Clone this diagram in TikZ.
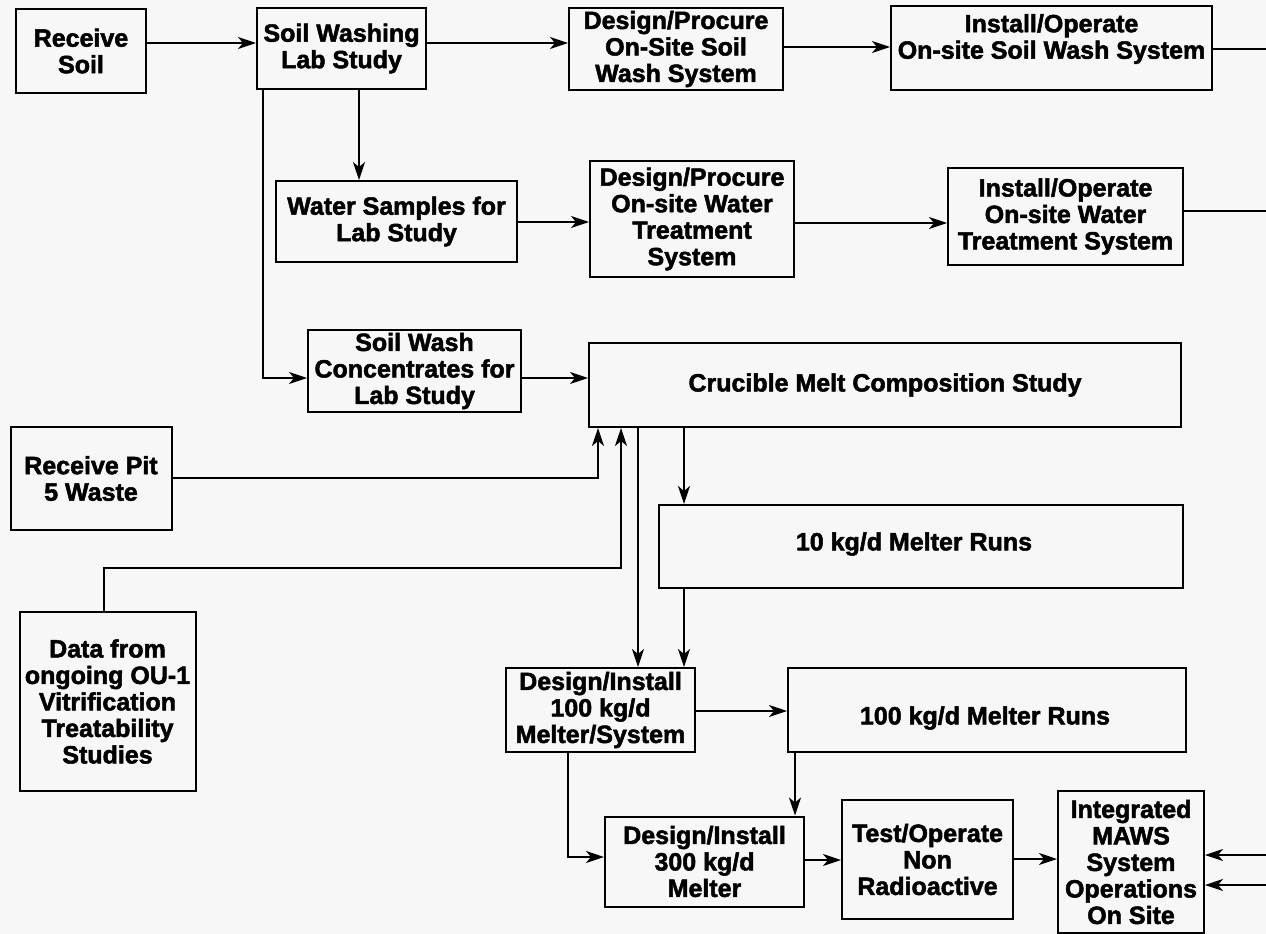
\documentclass[tikz,border=0pt]{standalone}
\usepackage{fontspec}
\setmainfont{Liberation Sans}[BoldFeatures={FakeBold=2}]
\usetikzlibrary{arrows.meta}
\definecolor{paper}{HTML}{F7F7F7}
\tikzset{
  box/.style={draw, line width=2pt, align=center, inner sep=0pt,
    font=\bfseries\fontsize{25}{26.5}\selectfont},
  txt/.style={align=center, inner sep=0pt, font=\bfseries\fontsize{25}{26.5}\selectfont},
  arr/.style={line width=1.6pt, -{Stealth[length=18pt,width=12pt,inset=5pt]}},
  wire/.style={line width=1.6pt},
}
\begin{document}
\begin{tikzpicture}[x=1pt,y=-1pt]
\fill[paper] (0,0) rectangle (1266,934);
\useasboundingbox (0,0) rectangle (1266,934);

% top row
\node[box, minimum width=130pt, minimum height=84pt] (rsoil) at (81,51) {Receive\\Soil};
\node[box, minimum width=169pt, minimum height=81pt] (swlab) at (341.5,48.5) {Soil Washing\\Lab Study};
\node[box, minimum width=214pt, minimum height=82pt] (dpsoil) at (676,49) {Design/Procure\\On-Site Soil\\Wash System};
\node[box, minimum width=321pt, minimum height=84pt] (iosoil) at (1051.5,48) {};
\node[txt] (iosoiltext) at (1051.5,39) {Install/Operate\\On-site Soil Wash System};

% water row
\node[box, minimum width=241pt, minimum height=81pt] (water) at (396.5,221.5) {Water Samples for\\Lab Study};
\node[box, minimum width=204pt, minimum height=116pt] (dpwater) at (692,219) {Design/Procure\\On-site Water\\Treatment\\System};
\node[box, minimum width=235pt, minimum height=97pt] (iowater) at (1065.5,216.5) {Install/Operate\\On-site Water\\Treatment System};

% melt study
\node[box, minimum width=213pt, minimum height=82pt] (conc) at (414.5,371) {Soil Wash\\Concentrates for\\Lab Study};
\node[box, minimum width=592pt, minimum height=84pt] (crucible) at (885,385) {Crucible Melt Composition Study};
\node[box, minimum width=161pt, minimum height=103pt] (pit) at (91,478.5) {Receive Pit\\5 Waste};
\node[box, minimum width=176pt, minimum height=179pt] (data) at (107.5,701.5) {Data from\\ongoing OU-1\\Vitrification\\Treatability\\Studies};
\node[box, minimum width=524pt, minimum height=83pt] (tenkg) at (920.5,546.5) {};
\node[txt] (tenkgtext) at (914,544) {10 kg/d Melter Runs};

% melters
\node[box, minimum width=189pt, minimum height=84pt] (di100) at (600.5,710) {Design/Install\\100 kg/d\\Melter/System};
\node[box, minimum width=398pt, minimum height=84pt] (hkg) at (987,710) {};
\node[txt] (hkgtext) at (985,718) {100 kg/d Melter Runs};
\node[box, minimum width=199pt, minimum height=90pt] (di300) at (704.5,861.5) {Design/Install\\300 kg/d\\Melter};
\node[box, minimum width=171pt, minimum height=119pt] (test) at (927.5,859.5) {Test/Operate\\Non\\Radioactive};
\node[box, minimum width=146pt, minimum height=142pt] (maws) at (1131,862) {Integrated\\MAWS\\System\\Operations\\On Site};

% loose ends at the right edge
\coordinate (soilout) at (1266,49);
\coordinate (waterout) at (1266,211);
\coordinate (inone) at (1266,855);
\coordinate (intwo) at (1266,885);

% connectors
\draw[arr] (rsoil.east |- 0,43) -- (swlab.west |- 0,43);
\draw[arr] (swlab.east |- 0,43) -- (dpsoil.west |- 0,43);
\draw[arr] (dpsoil.east |- 0,47) -- (iosoil.west |- 0,47);
\draw[wire] (iosoil.east |- soilout) -- (soilout);
\draw[arr] (swlab.south -| 359,0) -- (water.north -| 359,0);
\draw[arr] (swlab.south -| 263,0) |- (conc.west |- 0,378);
\draw[arr] (water.east |- 0,222) -- (dpwater.west |- 0,222);
\draw[arr] (dpwater.east |- 0,223) -- (iowater.west |- 0,223);
\draw[wire] (iowater.east |- waterout) -- (waterout);
\draw[arr] (conc.east |- 0,378) -- (crucible.west |- 0,378);
\draw[arr] (pit.east |- 0,478) -| (crucible.south -| 598,0);
\draw[arr] (data.north -| 104,0) |- (621,568) -- (crucible.south -| 621,0);
\draw[arr] (crucible.south -| 638,0) -- (di100.north -| 638,0);
\draw[arr] (crucible.south -| 684,0) -- (tenkg.north -| 684,0);
\draw[arr] (tenkg.south -| 684,0) -- (di100.north -| 684,0);
\draw[arr] (di100.east |- 0,711) -- (hkg.west |- 0,711);
\draw[arr] (hkg.south -| 795,0) -- (di300.north -| 795,0);
\draw[arr] (di100.south -| 568,0) |- (di300.west |- 0,857);
\draw[arr] (di300.east |- 0,860) -- (test.west |- 0,860);
\draw[arr] (test.east |- 0,859) -- (maws.west |- 0,859);
\draw[arr] (inone) -- (maws.east |- inone);
\draw[arr] (intwo) -- (maws.east |- intwo);
\end{tikzpicture}
\end{document}
